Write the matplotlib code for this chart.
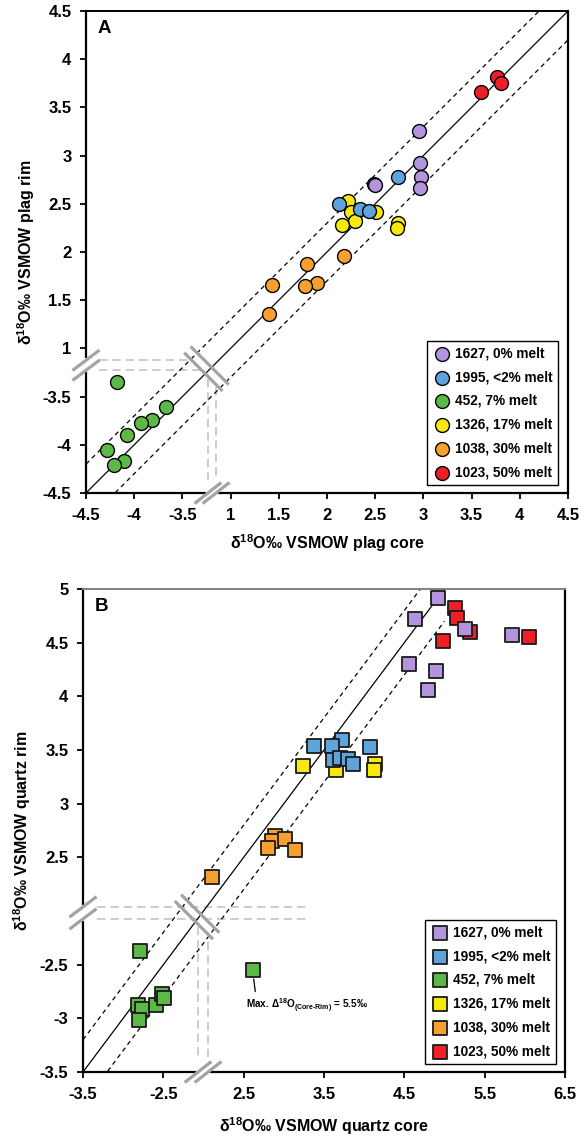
import numpy as np
import matplotlib
matplotlib.use("Agg")
import matplotlib.pyplot as plt

plt.rcParams['font.family'] = ['Liberation Sans', 'DejaVu Sans']
plt.rcParams['font.weight'] = 'bold'
plt.rcParams['mathtext.fontset'] = 'custom'
plt.rcParams['mathtext.rm'] = 'Liberation Sans:bold'
plt.rcParams['mathtext.bf'] = 'Liberation Sans:bold'
plt.rcParams['mathtext.it'] = 'Liberation Sans:bold:italic'
plt.rcParams['mathtext.default'] = 'rm'

# sample names and colours
labels = ['1627, 0% melt', '1995, <2% melt', '452, 7% melt',
          '1326, 17% melt', '1038, 30% melt', '1023, 50% melt']
colors = ['#b394dd', '#5fa3db', '#5db947', '#f7e80f', '#f7a030', '#ee2026']

# --- plagioclase core / rim (permil) ---
plag_core = [
    [2.95, 2.965, 2.98, 2.965, 2.49, 2.50],
    [2.74, 2.12, 2.34, 2.44],
    [-4.18, -3.667, -3.815, -3.926, -4.072, -4.279, -4.106, -4.206],
    [2.22, 2.25, 2.505, 2.29, 2.16, 2.74, 2.73],
    [2.18, 1.79, 1.90, 1.775, 1.43, 1.40],
    [3.767, 3.81, 3.60],
]
plag_rim = [
    [3.26, 2.92, 2.78, 2.665, 2.706, 2.69],
    [2.78, 2.50, 2.447, 2.43],
    [-3.35, -3.613, -3.741, -3.778, -3.903, -4.055, -4.169, -4.207],
    [2.53, 2.42, 2.416, 2.32, 2.28, 2.30, 2.25],
    [1.96, 1.878, 1.68, 1.646, 1.656, 1.353],
    [3.82, 3.758, 3.66],
]

# --- quartz core / rim (permil) ---
qtz_core = [
    [4.92, 4.63, 5.25, 5.84, 4.56, 4.89, 4.80],
    [3.73, 3.37, 3.60, 4.07, 3.61, 3.70, 3.80, 3.86],
    [-2.79, 2.61, -2.81, -2.77, -2.80, -2.595, -2.52, -2.49],
    [3.24, 3.65, 4.13, 4.12],
    [2.89, 2.85, 2.80, 3.02, 3.14, 2.10],
    [5.13, 5.15, 5.32, 6.05, 4.98],
]
qtz_rim = [
    [4.92, 4.72, 4.63, 4.57, 4.30, 4.24, 4.06],
    [3.59, 3.535, 3.535, 3.53, 3.41, 3.43, 3.42, 3.37],
    [-2.375, -2.55, -2.88, -2.91, -3.015, -2.88, -2.77, -2.81],
    [3.35, 3.31, 3.37, 3.31],
    [2.70, 2.65, 2.59, 2.67, 2.57, 2.32],
    [4.82, 4.73, 4.60, 4.55, 4.52],
]

plag_xticks = [-4.5, -4, -3.5, 1, 1.5, 2, 2.5, 3, 3.5, 4, 4.5]
plag_yticks = [-4.5, -4, -3.5, 1, 1.5, 2, 2.5, 3, 3.5, 4, 4.5]
qtz_xticks = [-3.5, -2.5, 2.5, 3.5, 4.5, 5.5, 6.5]
qtz_yticks = [-3.5, -3, -2.5, 2.5, 3, 3.5, 4, 4.5, 5]

max_delta_text = r'Max. Δ$^{18}$O$_{\text{(Core-Rim)}}$ = 5.5‰'


def squash(v, lo_shift, hi_shift):
    # collapse the empty range between the negative and positive clusters
    v = np.asarray(v, dtype=float)
    return np.where(v < 0, v + lo_shift, v + hi_shift)


def screen_seg(ax, x, y, angle, length):
    # short segment centred on (x, y) in data units, angle/length in pixels
    cx, cy = ax.transData.transform((x, y))
    a = np.radians(angle)
    ux, uy = np.cos(a), np.sin(a)
    p0 = (cx - ux * length / 2, cy - uy * length / 2)
    p1 = (cx + ux * length / 2, cy + uy * length / 2)
    return ax.transData.inverted().transform([p0, p1])


def draw_break(ax, xband, yband, diag, hx, vy):
    x0, y0 = ax.get_xlim()[0], ax.get_ylim()[0]
    grey = '#a3a3a3'
    light = '#c4c4c4'
    # gaps in the left and bottom spines
    ax.plot([x0, x0], yband, color='white', lw=3, clip_on=False, zorder=5)
    ax.plot(xband, [y0, y0], color='white', lw=3, clip_on=False, zorder=5)
    for yy in yband:
        p = screen_seg(ax, x0, yy, 37, 34)
        ax.plot(p[:, 0], p[:, 1], color=grey, lw=2.3, clip_on=False,
                zorder=6, solid_capstyle='butt')
    for xx in xband:
        p = screen_seg(ax, xx, y0, 38, 34)
        ax.plot(p[:, 0], p[:, 1], color=grey, lw=2.3, clip_on=False,
                zorder=6, solid_capstyle='butt')
    # break on the 1:1 line
    cx, cy = ax.transData.transform(diag)
    for d in (-4.5, 4.5):
        c = ax.transData.inverted().transform((cx + d * 0.707, cy + d * 0.707))
        p = screen_seg(ax, c[0], c[1], -45, 54)
        ax.plot(p[:, 0], p[:, 1], color=grey, lw=2.3, zorder=6,
                solid_capstyle='butt')
    # guide lines marking the gap
    for yy, (xa, xb) in zip(yband, hx):
        ax.plot([xa, xb], [yy, yy], color=light, lw=1.2, dashes=(5, 3),
                zorder=1)
    for xx, (ya, yb) in zip(xband, vy):
        ax.plot([xx, xx], [ya, yb], color=light, lw=1.2, dashes=(5, 3),
                zorder=1)


def style_axes(ax, top_color):
    for side in ('left', 'bottom', 'right'):
        ax.spines[side].set_linewidth(1.6)
    ax.spines['top'].set_linewidth(1.4)
    ax.spines['top'].set_color(top_color)
    ax.tick_params(direction='out', length=4.5, width=1.3, pad=6,
                   top=False, right=False)
    for t in ax.get_xticklabels() + ax.get_yticklabels():
        t.set_fontweight('bold')
        t.set_fontsize(12)


def one_to_one(ax, lim):
    t = np.array(lim)
    ax.plot(t, t, color='black', lw=0.9, zorder=2)
    ax.plot(t, t + 0.3, color='black', lw=0.9, dashes=(3.6, 3.0), zorder=2)
    ax.plot(t, t - 0.3, color='black', lw=0.9, dashes=(3.6, 3.0), zorder=2)


def legend(ax, anchor):
    leg = ax.legend(loc='lower right', bbox_to_anchor=anchor,
                    prop={'size': 9.8, 'weight': 'bold'},
                    frameon=True, fancybox=False, edgecolor='black',
                    framealpha=1, handletextpad=0.3, labelspacing=0.72,
                    borderpad=0.42, borderaxespad=0.3, handlelength=1.3,
                    scatterpoints=1)
    leg.get_frame().set_linewidth(1.0)
    leg.set_zorder(20)
    return leg


label_font = dict(fontsize=11.5, fontweight='bold')

fig = plt.figure(figsize=(5.85, 11.42), dpi=100)

# ---------------- A: plagioclase ----------------
axA = fig.add_axes([86 / 585, 1 - 493 / 1142, 482 / 585, 482 / 1142])
axA.set_xlim(-0.5, 4.5)
axA.set_ylim(-0.5, 4.5)
one_to_one(axA, (-0.5, 4.5))
for i in range(6):
    axA.scatter(squash(plag_core[i], 4, 0), squash(plag_rim[i], 4, 0),
                s=100, marker='o', color=colors[i], edgecolor='black',
                linewidth=1.0, zorder=10 - i, label=labels[i], clip_on=False)
axA.set_xticks(squash(plag_xticks, 4, 0))
axA.set_xticklabels([f'{t:g}' for t in plag_xticks])
axA.set_yticks(squash(plag_yticks, 4, 0))
axA.set_yticklabels([f'{t:g}' for t in plag_yticks])
style_axes(axA, 'black')
axA.set_xlabel(r'δ$^{18}$O‰ VSMOW plag core', labelpad=7, **label_font)
axA.set_ylabel(r'δ$^{18}$O‰ VSMOW plag rim', labelpad=4, **label_font)
axA.text(0.023, 0.982, 'A', transform=axA.transAxes, fontsize=13.5,
         fontweight='bold', va='top', ha='left')
draw_break(axA, (0.765, 0.849), (0.773, 0.877), (0.75, 0.79),
           hx=[(-0.37, 0.683), (-0.37, 0.579)],
           vy=[(0.68, -0.36), (0.60, -0.36)])
legend(axA, (0.988, 0.008))

# ---------------- B: quartz ----------------
axB = fig.add_axes([83 / 585, 1 - 1072 / 1142, 482 / 585, 483 / 1142])
axB.set_xlim(0, 6)
axB.set_ylim(0, 4.5)
one_to_one(axB, (0, 4.5))
for i in range(6):
    axB.scatter(squash(qtz_core[i], 3.5, -0.5), squash(qtz_rim[i], 3.5, -0.5),
                s=92, marker='s', color=colors[i], edgecolor='#1a1a1a',
                linewidth=1.3, zorder=10 - i, label=labels[i], clip_on=False)
axB.set_xticks(squash(qtz_xticks, 3.5, -0.5))
axB.set_xticklabels([f'{t:g}' for t in qtz_xticks])
axB.set_yticks(squash(qtz_yticks, 3.5, -0.5))
axB.set_yticklabels([f'{t:g}' for t in qtz_yticks])
style_axes(axB, '#808080')
axB.set_xlabel(r'δ$^{18}$O‰ VSMOW quartz core', labelpad=10, **label_font)
axB.set_ylabel(r'δ$^{18}$O‰ VSMOW quartz rim', labelpad=5, **label_font)
axB.text(0.025, 0.982, 'B', transform=axB.transAxes, fontsize=13.5,
         fontweight='bold', va='top', ha='left')
draw_break(axB, (1.432, 1.557), (1.426, 1.538), (1.42, 1.445),
           hx=[(0.17, 2.80), (0.17, 2.80)],
           vy=[(1.35, 0.11), (1.21, 0.11)])

# annotate the largest core-rim offset (green sample)
gx = squash(qtz_core[2][1], 3.5, -0.5)
gy = squash(qtz_rim[2][1], 3.5, -0.5)
axB.annotate(max_delta_text, xy=(gx, gy), xytext=(-4.5, -19.5),
             textcoords='offset points', fontsize=7.2, fontweight='bold',
             ha='left', va='top',
             arrowprops=dict(arrowstyle='-', color='black', lw=0.9,
                             relpos=(0.08, 1.0), shrinkA=2, shrinkB=6.5))
legend(axB, (0.99, 0.008))

fig.savefig('out.png', dpi=100, facecolor='white')
